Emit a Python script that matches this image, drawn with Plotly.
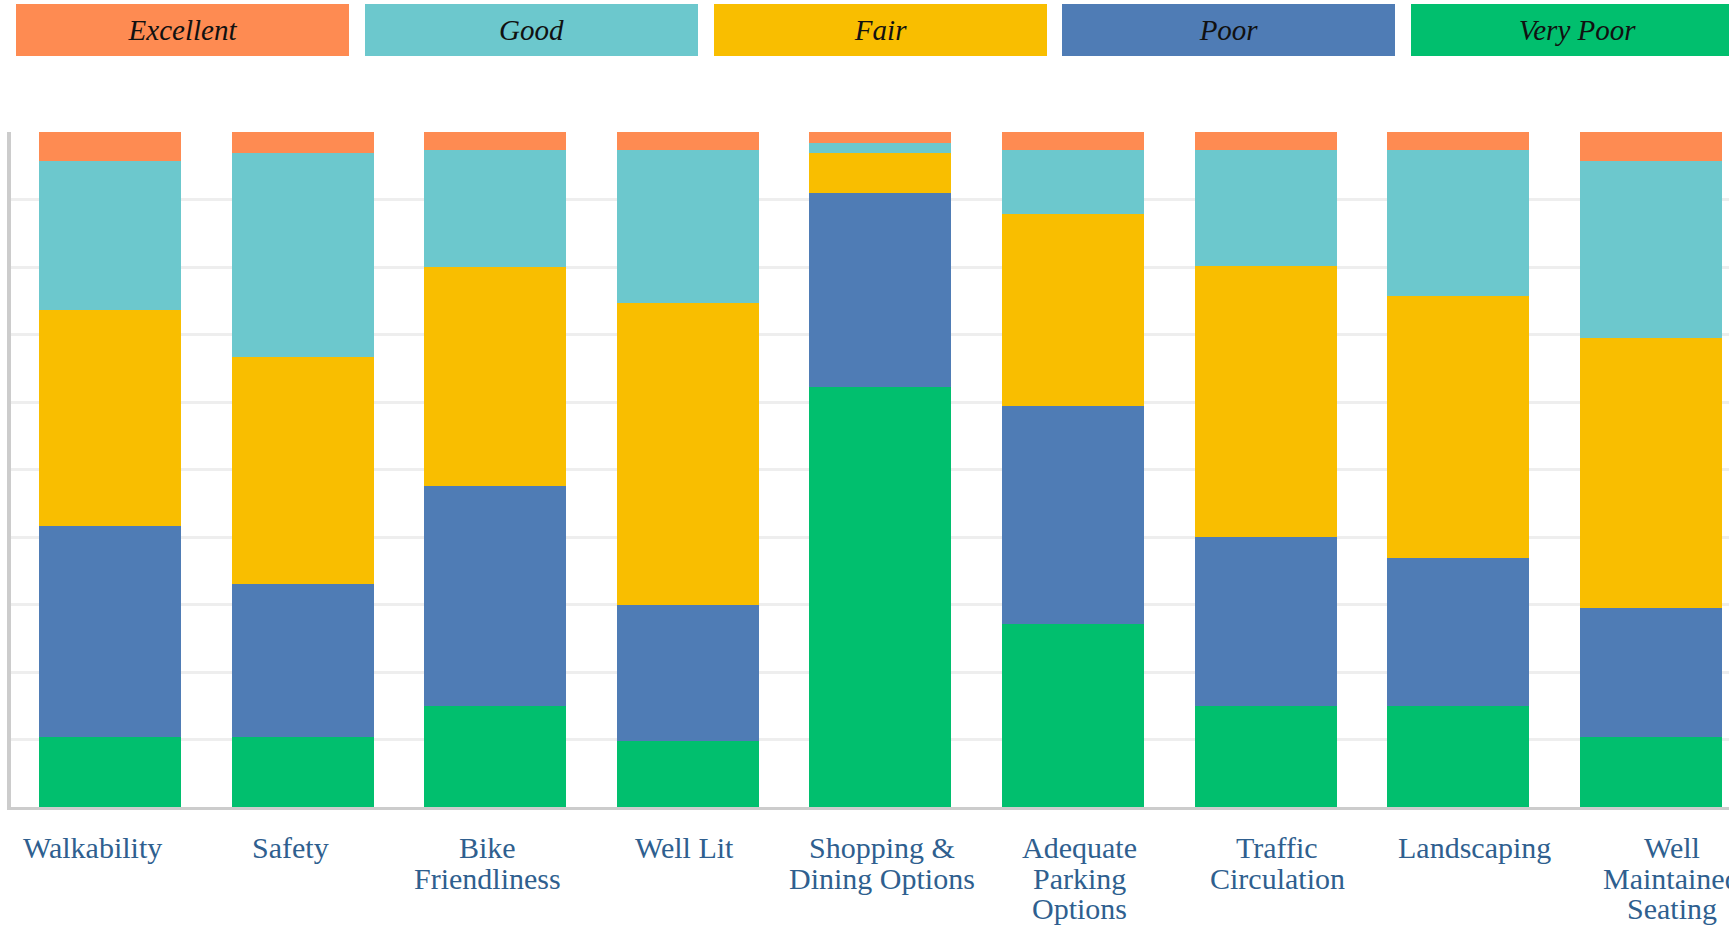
import plotly.graph_objects as go

# Survey ratings (% of respondents) for each streetscape attribute
categories = [
    "Walkability", "Safety", "Bike Friendliness", "Well Lit",
    "Shopping & Dining Options", "Adequate Parking Options",
    "Traffic Circulation", "Landscaping", "Well Maintained Seating",
]
label_lines = [
    ["Walkability"], ["Safety"], ["Bike", "Friendliness"], ["Well Lit"],
    ["Shopping &", "Dining Options"], ["Adequate", "Parking", "Options"],
    ["Traffic", "Circulation"], ["Landscaping"], ["Well", "Maintained", "Seating"],
]

very_poor = [10.3, 10.3, 15.0, 9.8, 62.2, 27.1, 15.0, 15.0, 10.3]
poor      = [31.3, 22.8, 32.5, 20.1, 28.8, 32.3, 25.0, 21.9, 19.2]
fair      = [32.0, 33.6, 32.5, 44.7, 5.9, 28.5, 40.1, 38.8, 40.0]
good      = [22.1, 30.2, 17.4, 22.8, 1.5, 9.5, 17.3, 21.7, 26.2]
excellent = [4.3, 3.1, 2.6, 2.6, 1.6, 2.6, 2.6, 2.6, 4.3]

rating_names = ["Excellent", "Good", "Fair", "Poor", "Very Poor"]
rating_colors = {
    "Excellent": "#FE8B52",
    "Good": "#6CC8CD",
    "Fair": "#F9BE00",
    "Poor": "#4F7CB5",
    "Very Poor": "#01BF6E",
}
# stacked bottom-to-top
stack = [("Very Poor", very_poor), ("Poor", poor), ("Fair", fair),
         ("Good", good), ("Excellent", excellent)]

W, H = 1729, 926
M_L, M_R, M_T, M_B = 11, 0, 132, 119
plot_w = W - M_L - M_R

SERIF = "Liberation Serif"
LABEL_COLOR = "#2F5F8F"

fig = go.Figure()
xs = list(range(len(categories)))
for name, vals in stack:
    fig.add_trace(go.Bar(
        x=xs, y=vals, name=name,
        marker=dict(color=rating_colors[name], line=dict(width=0)),
        showlegend=False,
        hovertext=categories,
        hovertemplate="%{hovertext}<br>" + name + ": %{y:.1f}%<extra></extra>",
    ))

annotations = []

# category labels, one annotation per text line for tight line spacing
line_step = 30.5
for i, lines in enumerate(label_lines):
    for j, line in enumerate(lines):
        annotations.append(dict(
            x=i, xref="x2", y=0, yref="paper",
            xanchor="center", yanchor="top",
            yshift=-22 - line_step * j,
            text=line, showarrow=False,
            font=dict(family=SERIF, size=30, color=LABEL_COLOR),
        ))

# legend row of coloured boxes across the top
box_w, box_h = 333, 52
first_center, step = 182.5, 348.75
for k, name in enumerate(rating_names):
    cx = first_center + step * k
    annotations.append(dict(
        x=(cx - M_L) / plot_w, xref="paper",
        y=1 + (M_T - 31 + 1) / (H - M_T - M_B), yref="paper",
        xanchor="center", yanchor="middle",
        width=box_w, height=box_h, bgcolor=rating_colors[name],
        borderpad=0, borderwidth=0,
        text="<i>" + name + "</i>", showarrow=False,
        font=dict(family=SERIF, size=29, color="#111111"),
        align="center", valign="middle",
    ))

fig.update_layout(
    width=W, height=H,
    margin=dict(l=M_L, r=M_R, t=M_T, b=M_B, pad=0),
    paper_bgcolor="white", plot_bgcolor="white",
    barmode="stack", bargap=0.263,
    xaxis=dict(
        range=[-0.514, 8.406], showticklabels=False, showgrid=False,
        zeroline=False, ticks="",
        showline=True, linecolor="#CCCCCC", linewidth=3,
    ),
    # label axis: category labels sit on a slightly wider pitch than the bars
    xaxis2=dict(
        overlaying="x", anchor="y", side="bottom",
        range=[-0.414, 8.289], showticklabels=False, showgrid=False,
        zeroline=False, ticks="", showline=False,
    ),
    yaxis=dict(
        range=[0, 100], dtick=10, showticklabels=False, ticks="",
        showgrid=True, gridcolor="#EEEEEE", gridwidth=3, zeroline=False,
        showline=True, linecolor="#CCCCCC", linewidth=4,
    ),
    annotations=annotations,
    font=dict(family=SERIF),
)

fig.write_html("out.html")
